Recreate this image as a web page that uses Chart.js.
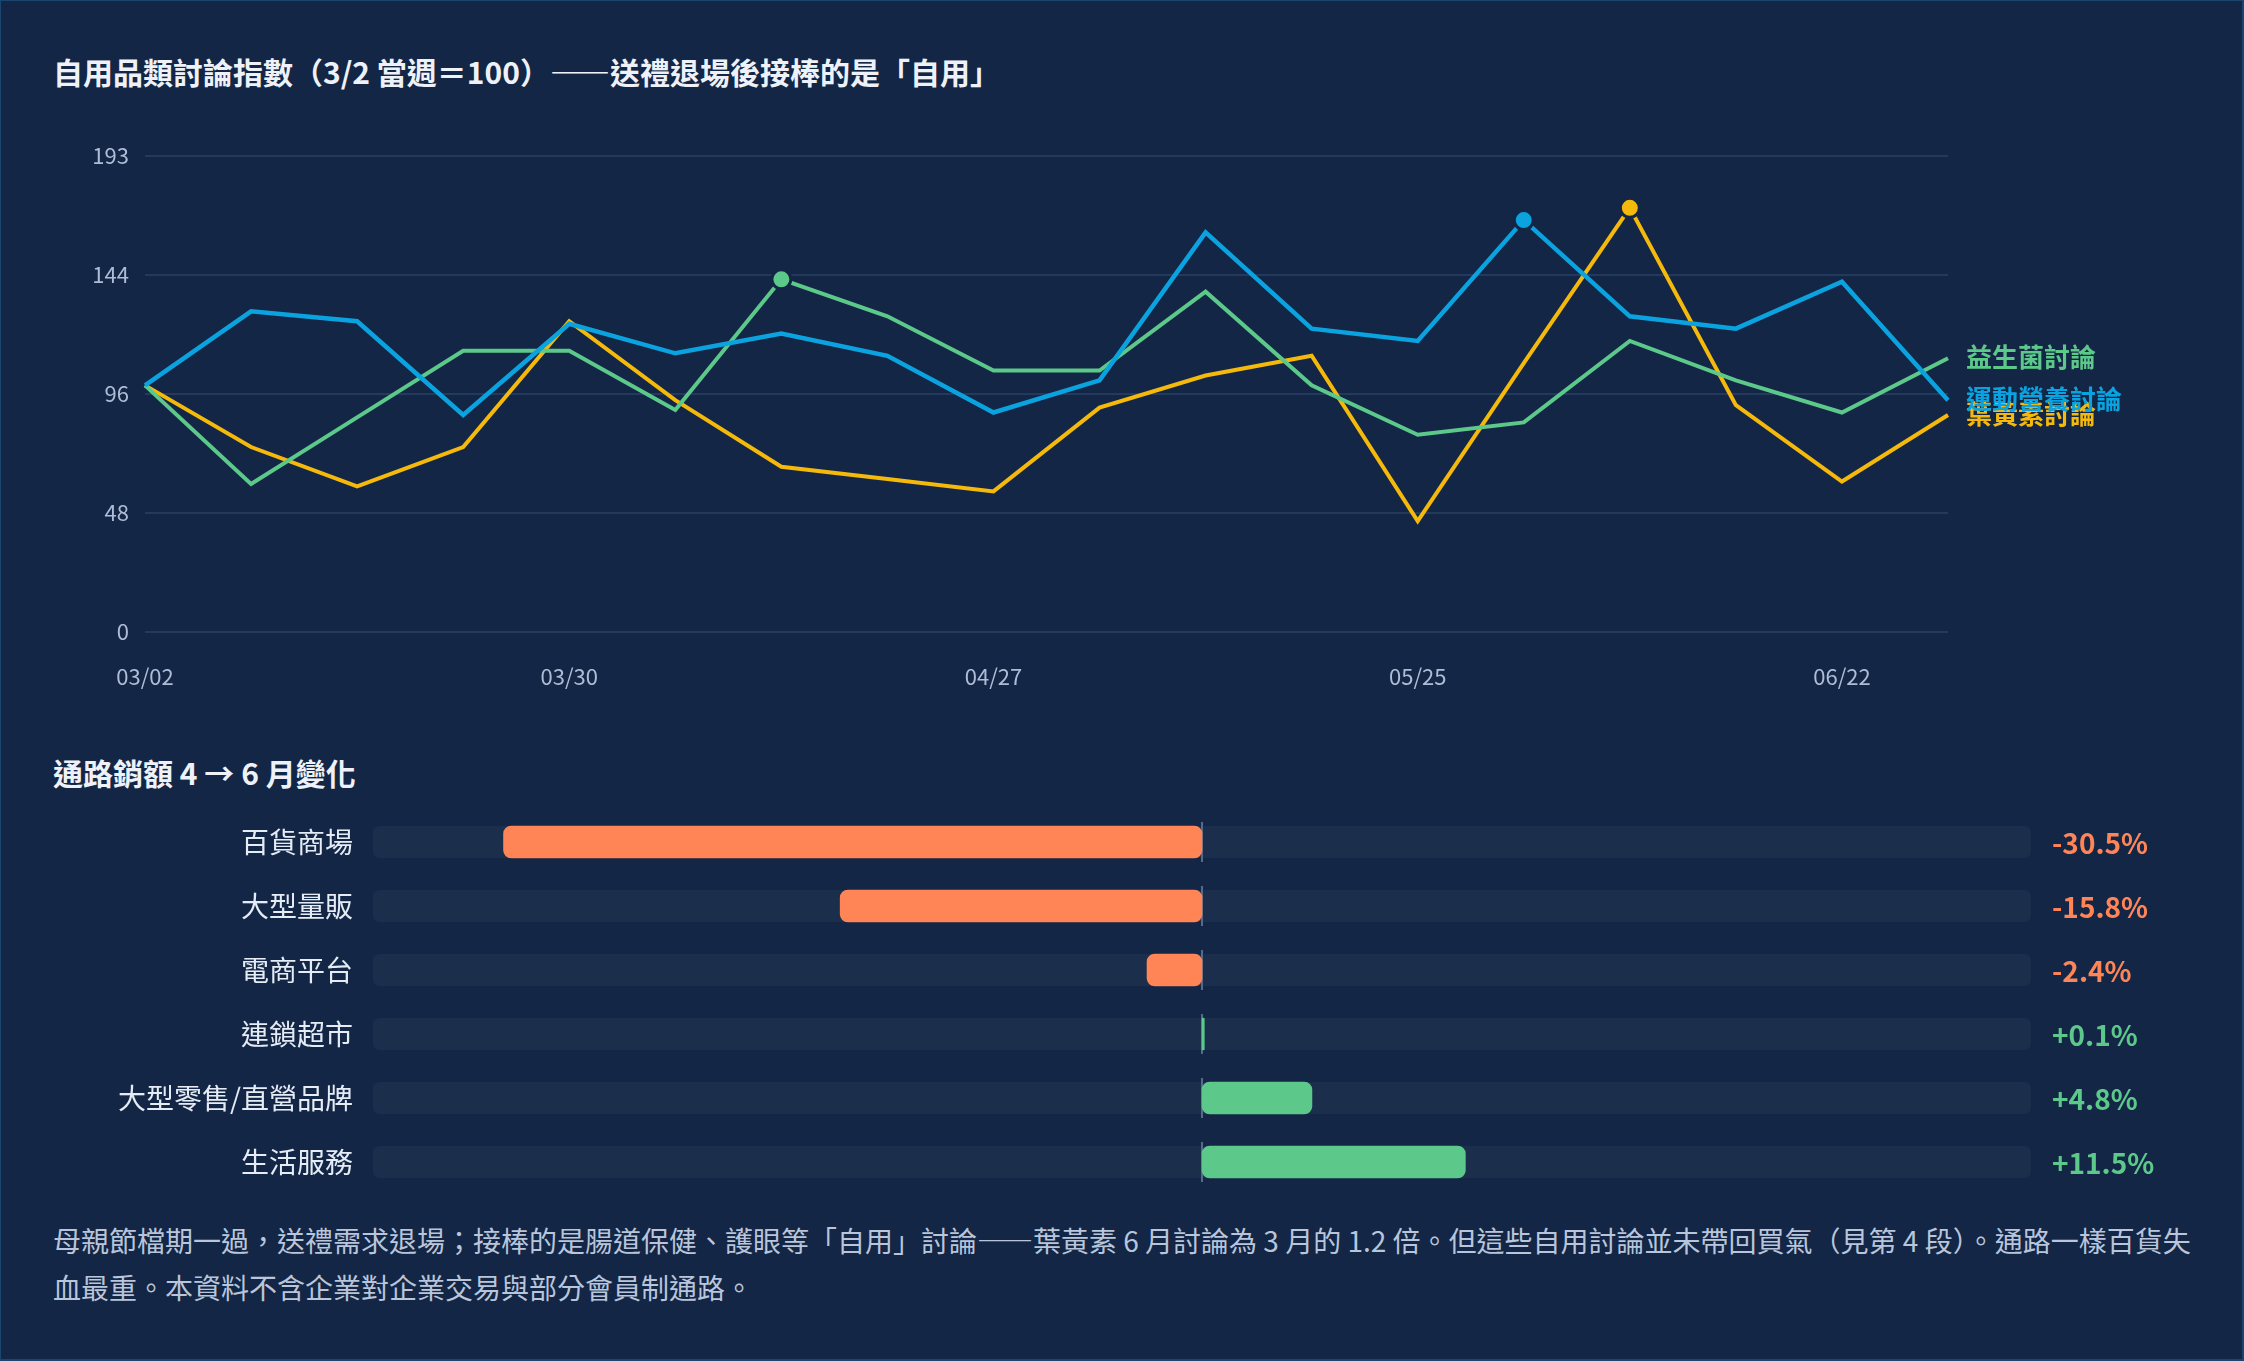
<!DOCTYPE html>
<html lang="zh-Hant">
<head>
<meta charset="utf-8">
<title>自用品類討論指數</title>
<script src="https://cdn.jsdelivr.net/npm/chart.js@4.4.1/dist/chart.umd.min.js"></script>
<style>
	html, body {
		margin: 0;
		padding: 0;
		width: 2244px;
		height: 1361px;
		overflow: hidden;
		background: #1a456f;
		font-family: "Noto Sans CJK TC", "Noto Sans", sans-serif;
	}
	#wrap {
		position: absolute;
		left: 1px;
		top: 1px;
		width: 2241px;
		height: 1358px;
		background: #132646;
	}
	.title {
		position: absolute;
		left: 52px;
		font-size: 30px;
		font-weight: 700;
		line-height: 40px;
		color: #eef2f8;
		white-space: nowrap;
	}
	#lineBox {
		position: absolute;
		left: -1px;
		top: 109px;
		width: 2244px;
		height: 590px;
	}
	#barBox {
		position: absolute;
		left: 0px;
		top: 799px;
		width: 2244px;
		height: 400px;
	}
	#note {
		position: absolute;
		left: 52px;
		top: 1216px;
		font-size: 28px;
		line-height: 47px;
		color: #b9c5da;
		white-space: nowrap;
	}
</style>
</head>
<body>
<div id="wrap">
	<div class="title" style="top: 50px;">自用品類討論指數（3/2 當週＝100）——送禮退場後接棒的是「自用」</div>
	<div id="lineBox"><canvas id="lineChart"></canvas></div>
	<div class="title" style="top: 751px;">通路銷額 4 → 6 月變化</div>
	<div id="barBox"><canvas id="barChart"></canvas></div>
	<div id="note">母親節檔期一過，送禮需求退場；接棒的是腸道保健、護眼等「自用」討論——葉黃素 6 月討論為 3 月的 1.2 倍。但這些自用討論並未帶回買氣（見第 4 段）。通路一樣百貨失<br>血最重。本資料不含企業對企業交易與部分會員制通路。</div>
</div>
<script>
// weekly discussion index, week of 3/2 = 100
const weeks = ["03/02", "03/09", "03/16", "03/23", "03/30", "04/06", "04/13", "04/20", "04/27",
	"05/04", "05/11", "05/18", "05/25", "06/01", "06/08", "06/15", "06/22", "06/29"];
const probiotic = [100, 60, 87, 114, 114, 90, 143, 128, 106, 106, 138, 100, 80, 85, 118, 102, 89, 111];
const sportsNutrition = [100, 130, 126, 88, 125, 113, 121, 112, 89, 102, 162, 123, 118, 167, 128, 123, 142, 94];
const lutein = [100, 75, 59, 75, 126, 94, 67, 62, 57, 91, 104, 112, 45, 109, 172, 92, 61, 88];
const yMax = 193;

// channel sales change, April -> June (%)
const channels = ["百貨商場", "大型量販", "電商平台", "連鎖超市", "大型零售/直營品牌", "生活服務"];
const channelChange = [-30.5, -15.8, -2.4, 0.1, 4.8, 11.5];
const changeRange = 36.2;

const BG = "#132646";
const GREEN = "#5cc98a";
const BLUE = "#0aa3e0";
const YELLOW = "#f5b90c";
const ORANGE = "#ff8456";
const FONT = "'Noto Sans CJK TC', 'Noto Sans', sans-serif";

Chart.defaults.font.family = FONT;
Chart.defaults.animation = false;

function maxIndex(values) {
	return values.indexOf(Math.max(...values));
}

function lineSet(label, values, color, width) {
	const peak = maxIndex(values);
	return {
		label: label,
		data: values,
		borderColor: color,
		backgroundColor: color,
		borderWidth: width,
		tension: 0,
		fill: false,
		pointRadius: (ctx) => (ctx.dataIndex === peak ? 9.5 : 0),
		pointHoverRadius: (ctx) => (ctx.dataIndex === peak ? 9.5 : 0),
		pointBackgroundColor: color,
		pointBorderColor: BG,
		pointBorderWidth: 3,
	};
}

// series name written next to the last point of each line
const endLabels = {
	id: "endLabels",
	afterDatasetsDraw(chart) {
		const ctx = chart.ctx;
		ctx.save();
		ctx.font = "700 26px " + FONT;
		ctx.textBaseline = "middle";
		ctx.textAlign = "left";
		for (const i of [2, 0, 1]) {
			const meta = chart.getDatasetMeta(i);
			const last = meta.data[meta.data.length - 1];
			ctx.fillStyle = chart.data.datasets[i].borderColor;
			ctx.fillText(chart.data.datasets[i].label, last.x + 18, last.y - 1);
		}
		ctx.restore();
	},
};

new Chart(document.getElementById("lineChart"), {
	type: "line",
	data: {
		labels: weeks,
		datasets: [
			lineSet("運動營養討論", sportsNutrition, BLUE, 4.5),
			lineSet("益生菌討論", probiotic, GREEN, 4),
			lineSet("葉黃素討論", lutein, YELLOW, 4),
		],
	},
	options: {
		responsive: true,
		maintainAspectRatio: false,
		layout: { padding: { top: 46, right: 296, bottom: 0, left: 0 } },
		plugins: {
			legend: { display: false },
			tooltip: { enabled: false },
		},
		scales: {
			x: {
				offset: false,
				afterFit: (scale) => { scale.height = 68; },
				border: { display: false },
				grid: { display: false, drawTicks: false },
				ticks: {
					autoSkip: false,
					maxRotation: 0,
					padding: 31,
					color: "#aebdd5",
					font: { size: 22 },
					callback: function (value, index) {
						return index % 4 === 0 ? this.getLabelForValue(value) : "";
					},
				},
			},
			y: {
				min: 0,
				max: yMax,
				afterFit: (scale) => { scale.width = 145; },
				border: { display: false },
				grid: { color: "#233a5c", lineWidth: 2, drawTicks: false },
				ticks: {
					stepSize: yMax / 4,
					padding: 16,
					color: "#aebdd5",
					font: { size: 22 },
					callback: (value) => Math.floor(value + 1e-6),
				},
			},
		},
	},
	plugins: [endLabels],
});

function roundRect(ctx, x, y, w, h, r) {
	ctx.beginPath();
	ctx.moveTo(x + r, y);
	ctx.lineTo(x + w - r, y);
	ctx.quadraticCurveTo(x + w, y, x + w, y + r);
	ctx.lineTo(x + w, y + h - r);
	ctx.quadraticCurveTo(x + w, y + h, x + w - r, y + h);
	ctx.lineTo(x + r, y + h);
	ctx.quadraticCurveTo(x, y + h, x, y + h - r);
	ctx.lineTo(x, y + r);
	ctx.quadraticCurveTo(x, y, x + r, y);
	ctx.closePath();
}

// background track and zero line under each bar, value text after
const barDecor = {
	id: "barDecor",
	beforeDatasetsDraw(chart) {
		const ctx = chart.ctx;
		const area = chart.chartArea;
		const zero = chart.scales.x.getPixelForValue(0);
		ctx.save();
		for (const bar of chart.getDatasetMeta(0).data) {
			ctx.fillStyle = "#1b2e4c";
			roundRect(ctx, area.left, bar.y - bar.height / 2, area.right - area.left, bar.height, 7);
			ctx.fill();

			ctx.strokeStyle = "#56698a";
			ctx.lineWidth = 2;
			ctx.beginPath();
			ctx.moveTo(zero, bar.y - bar.height / 2 - 4);
			ctx.lineTo(zero, bar.y + bar.height / 2 + 4);
			ctx.stroke();
		}
		ctx.restore();
	},
	afterDatasetsDraw(chart) {
		const ctx = chart.ctx;
		const values = chart.data.datasets[0].data;
		ctx.save();
		ctx.font = "700 28px " + FONT;
		ctx.textAlign = "left";
		ctx.textBaseline = "middle";
		chart.getDatasetMeta(0).data.forEach((bar, i) => {
			const v = values[i];
			ctx.fillStyle = v < 0 ? ORANGE : GREEN;
			ctx.fillText((v > 0 ? "+" : "") + v.toFixed(1) + "%", chart.chartArea.right + 21, bar.y + 1);
		});
		ctx.restore();
	},
};

new Chart(document.getElementById("barChart"), {
	type: "bar",
	data: {
		labels: channels,
		datasets: [{
			data: channelChange,
			backgroundColor: channelChange.map((v) => (v < 0 ? ORANGE : GREEN)),
			borderRadius: 8,
			borderSkipped: false,
			barThickness: 32,
		}],
	},
	options: {
		indexAxis: "y",
		responsive: true,
		maintainAspectRatio: false,
		layout: { padding: { top: 10, right: 214, bottom: 6, left: 0 } },
		plugins: {
			legend: { display: false },
			tooltip: { enabled: false },
		},
		scales: {
			x: {
				display: false,
				min: -changeRange,
				max: changeRange,
			},
			y: {
				afterFit: (scale) => {
					scale.width = 372;
					scale.paddingTop = 0;
					scale.paddingBottom = 0;
				},
				border: { display: false },
				grid: { display: false, drawTicks: false },
				ticks: {
					padding: 20,
					color: "#e6ecf5",
					font: { size: 28 },
				},
			},
		},
	},
	plugins: [barDecor],
});
</script>
</body>
</html>
